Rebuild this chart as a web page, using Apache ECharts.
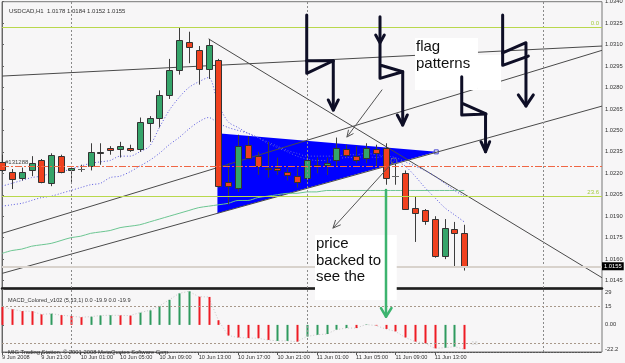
<!DOCTYPE html>
<html><head><meta charset="utf-8">
<script src="https://cdn.jsdelivr.net/npm/echarts@6/dist/echarts.min.js"></script>
<style>html,body{margin:0;padding:0;background:#f7f6f7;}#c{width:625px;height:363px;}</style>
</head><body><div id="c"></div>
<script>
// ================= DATA =================
const symbolTitle = 'USDCAD,H1';
const macdTitle = 'MACD_Colored_v102 (5,13,1)';
const timeLabelBars = [0, 4, 8, 12, 16, 20, 24, 28, 32, 36, 40, 44];
const timeLabels = ['9 Jun 2008', '9 Jun 21:00', '10 Jun 01:00', '10 Jun 05:00', '10 Jun 09:00', '10 Jun 13:00',
  '10 Jun 17:00', '10 Jun 21:00', '11 Jun 01:00', '11 Jun 05:00', '11 Jun 09:00', '11 Jun 13:00'];
const priceTicks = [1.0145, 1.0160, 1.0175, 1.0190, 1.0205, 1.0220, 1.0235, 1.0250, 1.0265, 1.0280, 1.0295, 1.0310, 1.0325, 1.0340];
const macdTicks = [-22.2, -15, 0, 15, 29.4];
const macdTickLabels = ['-22.2', '-15', '0.00', '15', '29'];
const dayBreaks = [7, 31, 55];

// hourly candles, bar 0 = 9 Jun 17:00
const open  = [1.0228,1.0221,1.0217,1.0222,1.0229,1.0213,1.0232,1.0222,1.0223,1.0225,1.0234,1.0238,1.0237,1.0238,1.0237,1.0255,1.0259,1.0275,1.0292,1.0312,1.0306,1.0293,1.0299,1.0214,1.0210,1.0240,1.0232,1.0224,1.0224,1.0221,1.0218,1.0217,1.0226,1.0226,1.0229,1.0237,1.0232,1.0231,1.0237,1.0238,1.0218,1.0220,1.0196,1.0194,1.0188,1.0162,1.0181,1.0178];
const high  = [1.0233,1.0223,1.0224,1.0232,1.0230,1.0234,1.0233,1.0225,1.0226,1.0241,1.0241,1.0239,1.0242,1.0240,1.0259,1.0260,1.0278,1.0300,1.0322,1.0319,1.0309,1.0314,1.0300,1.0227,1.0247,1.0246,1.0235,1.0242,1.0231,1.0224,1.0224,1.0232,1.0231,1.0231,1.0245,1.0240,1.0239,1.0241,1.0240,1.0241,1.0227,1.0222,1.0204,1.0195,1.0190,1.0188,1.0186,1.0184];
const low   = [1.0221,1.0209,1.0215,1.0218,1.0213,1.0211,1.0220,1.0214,1.0221,1.0222,1.0226,1.0233,1.0231,1.0235,1.0235,1.0242,1.0252,1.0272,1.0289,1.0297,1.0282,1.0286,1.0210,1.0198,1.0207,1.0230,1.0219,1.0217,1.0219,1.0215,1.0210,1.0213,1.0220,1.0219,1.0225,1.0231,1.0227,1.0227,1.0225,1.0212,1.0212,1.0195,1.0172,1.0184,1.0161,1.0160,1.0154,1.0152];
const close = [1.0222,1.0216,1.0221,1.0227,1.0214,1.0233,1.0221,1.0224,1.0223,1.0235,1.0235,1.0236,1.0239,1.0236,1.0256,1.0259,1.0275,1.0292,1.0313,1.0308,1.0293,1.0310,1.0211,1.0211,1.0239,1.0231,1.0225,1.0223,1.0222,1.0219,1.0214,1.0229,1.0225,1.0227,1.0238,1.0233,1.0229,1.0238,1.0234,1.0217,1.0218,1.0195,1.0192,1.0187,1.0162,1.0182,1.0178,1.0155];

// moving averages (blue dotted pair, green)
const maFast = [1.0211,1.0213,1.0215,1.0217,1.0218,1.0220,1.0221,1.0223,1.0225,1.0227,1.0228,1.0229,1.0232,1.0232,1.0235,1.0239,1.0252,1.0264,1.0273,1.0280,1.0284,1.0287,1.0268,1.0256,1.0252,1.0248,1.0245,1.0242,1.0239,1.0236,1.0234,1.0232,1.0232,1.0232,1.0232,1.0233,1.0233,1.0234,1.0233,1.0232,1.0229,1.0225,1.0218,1.0210,1.0203,1.0196,1.0191,1.0186];
const maSlow = [1.0197,1.0198,1.0199,1.0201,1.0203,1.0204,1.0206,1.0208,1.0210,1.0212,1.0213,1.0217,1.0218,1.0221,1.0225,1.0229,1.0234,1.0240,1.0245,1.0251,1.0256,1.0259,1.0255,1.0252,1.0250,1.0248,1.0245,1.0241,1.0238,1.0235,1.0232,1.0230,1.0229,1.0229,1.0230,1.0231,1.0231,1.0232,1.0231,1.0232,1.0231,1.0228,1.0225,1.0222,1.0218,1.0213,1.0208,1.0204];
const maGreen = [1.0164,1.0166,1.0167,1.0169,1.0170,1.0171,1.0173,1.0175,1.0176,1.0178,1.0179,1.0180,1.0182,1.0183,1.0184,1.0186,1.0188,1.0190,1.0192,1.0194,1.0196,1.0197,1.0198,1.0199,1.0201,1.0201,1.0203,1.0204,1.0205,1.0206,1.0206,1.0207,1.0207,1.0208,1.0208,1.0208,1.0208,1.0208,1.0208,1.0208,1.0208,1.0208,1.0208,1.0208,1.0208,1.0208,1.0208,1.0208];

// MACD_Colored buffers (green = up buffer, red = down buffer), and dotted signal
const macdUp   = [null,null,null,null,null,9.2,null,null,null,6.7,7.7,7.9,null,null,10.0,11.9,15.5,20.5,25.8,27.5,null,null,null,null,null,null,null,null,-13.1,-13.1,null,-9.5,-8.1,-7.5,-3.9,-2.6,null,0.3,null,null,null,null,null,null,null,-18.7,-17.8,null];
const macdDown = [14.7,12.8,11.3,11.2,8.6,null,8.0,7.2,6.3,null,null,null,7.8,7.6,null,null,null,null,null,null,23.1,22.9,3.8,-8.7,-10.3,-10.8,-10.9,-12.3,null,null,-13.7,null,null,null,null,null,-2.6,null,-0.5,-3.3,-5.3,-10.3,-13.7,-15.0,-19.2,null,null,-19.9];
const macdSignal = [14.7,12.8,11.3,11.2,8.6,9.2,8.0,7.2,6.3,6.7,7.7,7.9,7.8,7.6,10.0,11.9,15.5,20.5,25.8,27.5,23.1,22.9,3.8,-8.7,-10.3,-10.8,-10.9,-12.3,-13.1,-13.1,-13.7,-9.5,-8.1,-7.5,-3.9,-2.6,-2.6,0.3,-0.5,-3.3,-5.3,-10.3,-13.7,-15.0,-19.2,-18.7,-17.8,-19.9];
const macdLevels = [15, -15];

// chart objects (bar index, price)
const fibLevels = [1.0322, 1.0204];
const fibNames = ['0.0', '23.6'];
const hLevel = 1.0225;
const hLevelName = '#131288';
const bidPrice = 1.0155;
const trendLines = [
  [[0, 1.0288], [61, 1.0309]],
  [[0, 1.0178], [61, 1.0306]],
  [[0, 1.0150], [61, 1.0267]],
  [[21, 1.0314], [61, 1.0147]]
];
const pennant = [[21.9, 1.0248], [21.9, 1.0192], [44.15, 1.0235]];

// hand-drawn annotations (bar index, price)
const whiteBoxes = [[41.99, 1.03146, 48.39, 1.02783], [48.39, 1.03027, 50.73, 1.02783], [31.82, 1.01769, 40.13, 1.01314]];
const noteTexts = ['flag\npatterns', 'price\nbacked to\nsee the'];
const noteAnchors = [[42.09, 1.03139], [31.92, 1.01762]];
const blackStrokes = [
  [[30.98,1.03307],[30.98,1.02899],[33.68,1.02987],[33.68,1.02643]],
  [[30.98,1.02987],[33.68,1.02987]],
  [[33.17,1.02713],[33.68,1.02643],[34.19,1.02713]],
  [[38.43,1.03295],[38.43,1.02864],[40.74,1.0291],[38.43,1.02957]],
  [[40.74,1.0291],[40.74,1.02538]],
  [[37.99,1.03167],[38.43,1.03113],[38.87,1.03167]],
  [[40.19,1.02608],[40.74,1.02538],[41.21,1.02608]],
  [[50.9,1.03307],[50.9,1.02955],[53.51,1.0302]],
  [[50.9,1.03043],[53.27,1.03113],[53.27,1.02671]],
  [[52.49,1.02748],[53.27,1.02671],[54.02,1.02748]],
  [[46.74,1.02876],[46.74,1.02608],[49.21,1.02615],[46.74,1.0269]],
  [[49.16,1.02615],[49.16,1.02351]],
  [[48.7,1.02421],[49.16,1.02351],[49.58,1.02421]]
];
const greenStrokes = [
  [[39.04,1.02083],[39.04,1.01197]],
  [[38.53,1.01258],[39.04,1.01197],[39.6,1.01258]]
];
const grayStrokes = [
  [[38.63,1.02783],[35.07,1.02454]],
  [[35.70,1.02477],[35.07,1.02454],[35.22,1.02502]],
  [[39.85,1.02286],[33.65,1.01817]],
  [[34.40,1.01839],[33.65,1.01817],[33.90,1.01871]]
];

// ================= CHART =================
const UP = '#35a46a', DOWN = '#f0411f', FONT = '"Liberation Sans", Arial, sans-serif';
const last = open.length - 1;
const chart = echarts.init(document.getElementById('c'), null, {width: 625, height: 363});

function renderCandle(params, api) {
  const i = api.value(0), o = api.value(1), c = api.value(2), l = api.value(3), h = api.value(4);
  const po = api.coord([i, o]), pc = api.coord([i, c]), pl = api.coord([i, l]), ph = api.coord([i, h]);
  const cx = Math.round(po[0]) + 0.5, w = 5;
  const kids = [{type: 'line', shape: {x1: cx, y1: ph[1], x2: cx, y2: pl[1]}, style: {stroke: '#3d3d3d', lineWidth: 1}}];
  if (o === c) {
    const y = Math.round(po[1]) + 0.5;
    kids.push({type: 'line', shape: {x1: cx - 3.5, y1: y, x2: cx + 3.5, y2: y}, style: {stroke: '#6a6a6a', lineWidth: 1}});
  } else {
    const t = Math.round(Math.min(po[1], pc[1])) + 0.5, b = Math.round(Math.max(po[1], pc[1])) + 0.5;
    kids.push({type: 'rect', shape: {x: cx - w / 2 - 0.5, y: t, width: w + 1, height: Math.max(b - t, 1)},
      style: {fill: c > o ? UP : DOWN, stroke: '#333', lineWidth: 1}});
  }
  return {type: 'group', children: kids};
}
function macdBars(color) {
  return (params, api) => {
    const v = api.value(1);
    if (v == null || isNaN(v)) return null;
    const p0 = api.coord([api.value(0), 0]), p1 = api.coord([api.value(0), v]);
    const x = Math.round(p0[0]) - 0.5;
    return {type: 'rect', shape: {x: x, y: Math.min(p0[1], p1[1]), width: 2, height: Math.abs(p1[1] - p0[1])}, style: {fill: color}};
  };
}
const idx = arr => arr.map((v, i) => [i, v]);
const strokeSeries = (list, color, width, z) => list.map(pts => ({
  type: 'line', data: pts, xAxisIndex: 0, yAxisIndex: 0, clip: false, silent: true, z: z,
  showSymbol: false, symbol: 'none', lineStyle: {color: color, width: width, cap: 'round', join: 'round'}, animation: false
}));
const lastMacd = macdSignal[last].toFixed(1);

const option = {
  backgroundColor: '#f7f6f7',
  animation: false,
  title: [
    {text: symbolTitle + '  ' + [open[last], high[last], low[last], close[last]].map(v => v.toFixed(4)).join(' '),
      left: 4, top: 3, textStyle: {fontSize: 6, fontWeight: 'normal', color: '#333', fontFamily: FONT}},
    {text: macdTitle + ' 0.0 ' + lastMacd + ' 0.0 ' + lastMacd,
      left: 3, top: 292, textStyle: {fontSize: 5.6, fontWeight: 'normal', color: '#333', fontFamily: FONT}},
    {text: 'MIG Trading Station, © 2001-2008 MetaQuotes Software Corp.',
      left: 3, top: 344, textStyle: {fontSize: 5.8, fontWeight: 'normal', color: '#333', fontFamily: FONT}}
  ],
  grid: [
    {left: 2, top: 1.7, width: 600, height: 286.3, show: true, borderColor: '#777', borderWidth: 1, outerBoundsMode: 'none', containLabel: false},
    {left: 2, top: 289, width: 600, height: 63, show: true, borderColor: '#777', borderWidth: 1, outerBoundsMode: 'none', containLabel: false}
  ],
  xAxis: [
    {type: 'value', gridIndex: 0, min: 0, max: 61, position: 'bottom',
      axisLine: {show: true, onZero: false, lineStyle: {color: '#1e1e1e', width: 2.5}},
      axisTick: {show: false}, axisLabel: {show: false}, splitLine: {show: false}},
    {type: 'value', gridIndex: 1, min: 0, max: 61, position: 'bottom',
      axisLine: {show: true, onZero: false, lineStyle: {color: '#555', width: 1, type: [2, 1]}},
      axisTick: {show: true, length: 3, lineStyle: {color: '#555'}, customValues: timeLabelBars},
      axisLabel: {show: true, customValues: timeLabelBars, align: 'left', margin: 2, fontSize: 5.6, color: '#333', fontFamily: FONT, hideOverlap: false,
        formatter: v => { const k = timeLabelBars.indexOf(Math.round(v)); return k >= 0 ? timeLabels[k] : ''; }},
      splitLine: {show: false}}
  ],
  yAxis: [
    {type: 'value', gridIndex: 0, min: 1.01398, max: 1.0340, position: 'right', scale: true,
      axisLine: {show: true, lineStyle: {color: '#666'}},
      axisTick: {show: true, length: 2, lineStyle: {color: '#666'}, customValues: priceTicks},
      axisLabel: {show: true, customValues: priceTicks, margin: 3, fontSize: 5.8, color: '#333', fontFamily: FONT, hideOverlap: false, formatter: v => v.toFixed(4)},
      splitLine: {show: false}},
    {type: 'value', gridIndex: 1, min: -22.2, max: 29.4, position: 'right',
      axisLine: {show: true, lineStyle: {color: '#666'}},
      axisTick: {show: true, length: 2, lineStyle: {color: '#666'}, customValues: macdTicks},
      axisLabel: {show: true, customValues: macdTicks, margin: 3, fontSize: 5.8, color: '#333', fontFamily: FONT,
        hideOverlap: false, showMinLabel: true, showMaxLabel: true,
        verticalAlignMinLabel: 'bottom', verticalAlignMaxLabel: 'top',
        formatter: v => { let k = -1, d = 1e9; macdTicks.forEach((t, j) => { if (Math.abs(t - v) < d) { d = Math.abs(t - v); k = j; } }); return macdTickLabels[k]; }},
      splitLine: {show: false}}
  ],
  series: [
    // pennant (background object)
    {type: 'custom', xAxisIndex: 0, yAxisIndex: 0, z: 1, silent: true, data: [pennant.flat()],
      renderItem: (params, api) => {
        const pts = [0, 1, 2].map(k => api.coord([api.value(2 * k), api.value(2 * k + 1)]));
        return {type: 'group', children: [
          {type: 'polygon', shape: {points: pts}, style: {fill: '#0000ff'}},
          {type: 'rect', shape: {x: pts[2][0] - 2, y: pts[2][1] - 2, width: 4, height: 4}, style: {fill: 'none', stroke: '#4a4ad0', lineWidth: 1}}
        ]};
      }},
    // trend lines
    ...trendLines.map(tl => ({type: 'line', data: tl, xAxisIndex: 0, yAxisIndex: 0, z: 3, silent: true, symbol: 'none',
      lineStyle: {color: '#4a4a4a', width: 1}})),
    // moving averages + horizontal objects + day separators
    {type: 'line', data: idx(maGreen), xAxisIndex: 0, yAxisIndex: 0, z: 3, silent: true, symbol: 'none', smooth: 0.3,
      lineStyle: {color: '#6cc692', width: 1},
      markLine: {silent: true, symbol: ['none', 'none'], animation: false, precision: 6,
        data: [
          ...dayBreaks.map(x => ({xAxis: x, lineStyle: {color: '#8a8a8a', type: [2, 2], width: 1}, label: {show: false}})),
          ...fibLevels.map((y, k) => ({yAxis: y, lineStyle: {color: '#b9d84c', type: 'solid', width: 1},
            label: {show: true, position: 'insideEndTop', formatter: fibNames[k], color: '#a6cc40', fontSize: 6, fontFamily: FONT, distance: [3, 1]}})),
          {yAxis: hLevel, lineStyle: {color: '#f06644', type: [7, 2, 2, 2], width: 1},
            label: {show: true, position: 'insideStartTop', formatter: hLevelName, color: '#444', fontSize: 6, fontFamily: FONT, distance: [3, 1]}},
          {yAxis: bidPrice, lineStyle: {color: '#d8d2cc', type: 'solid', width: 2},
            label: {show: true, position: 'end', formatter: bidPrice.toFixed(4), color: '#fff', backgroundColor: '#000', fontSize: 5.8, fontFamily: FONT, padding: [1, 2, 1, 2], distance: 0}}
        ]}},
    {type: 'line', data: idx(maFast), xAxisIndex: 0, yAxisIndex: 0, z: 3, silent: true, symbol: 'none', smooth: 0.3,
      lineStyle: {color: '#5a5ae0', width: 1, type: [1, 2]}},
    {type: 'line', data: idx(maSlow), xAxisIndex: 0, yAxisIndex: 0, z: 3, silent: true, symbol: 'none', smooth: 0.3,
      lineStyle: {color: '#5a5ae0', width: 1, type: [1, 2]}},
    // candles
    {type: 'custom', xAxisIndex: 0, yAxisIndex: 0, z: 4, silent: true,
      data: open.map((o, i) => [i, o, close[i], low[i], high[i]]), renderItem: renderCandle},
    // MACD
    {type: 'line', data: idx(macdSignal), xAxisIndex: 1, yAxisIndex: 1, z: 3, silent: true, symbol: 'none',
      lineStyle: {color: '#c8c8c8', width: 1, type: [1, 2]},
      markLine: {silent: true, symbol: ['none', 'none'], animation: false, precision: 4, label: {show: false},
        data: [
          ...dayBreaks.map(x => ({xAxis: x, lineStyle: {color: '#8a8a8a', type: [2, 2], width: 1}})),
          ...macdLevels.map(y => ({yAxis: y, lineStyle: {color: '#a8988a', type: [2, 2], width: 1}}))
        ]}},
    {type: 'custom', xAxisIndex: 1, yAxisIndex: 1, z: 4, silent: true, data: idx(macdUp), renderItem: macdBars('#2f9a5e')},
    {type: 'custom', xAxisIndex: 1, yAxisIndex: 1, z: 4, silent: true, data: idx(macdDown), renderItem: macdBars('#ee1c24')},
    {type: 'custom', xAxisIndex: 1, yAxisIndex: 1, z: 5, silent: true, data: [[47.5, -15.2]],
      renderItem: (params, api) => { const p = api.coord([api.value(0), api.value(1)]);
        return {type: 'text', x: p[0], y: p[1], style: {text: '-16', fill: '#d0d0d0', font: '6px ' + FONT, verticalAlign: 'middle'}}; }},
    // white boxes (pasted annotations)
    {type: 'custom', xAxisIndex: 0, yAxisIndex: 0, z: 10, silent: true, clip: false, data: whiteBoxes,
      renderItem: (params, api) => {
        const a = api.coord([api.value(0), api.value(1)]), b = api.coord([api.value(2), api.value(3)]);
        return {type: 'rect', shape: {x: a[0], y: a[1], width: b[0] - a[0], height: b[1] - a[1]}, style: {fill: '#ffffff'}};
      }},
    ...strokeSeries(grayStrokes, '#555', 1, 11),
    ...strokeSeries(blackStrokes, '#0e0e26', 3, 12),
    ...strokeSeries(greenStrokes, '#3db46f', 2.5, 12),
    {type: 'scatter', data: [grayStrokes[2][0]], xAxisIndex: 0, yAxisIndex: 0, z: 11, silent: true,
      symbol: 'circle', symbolSize: 6, itemStyle: {color: 'rgba(0,0,0,0)', borderColor: '#777', borderWidth: 1}},
    {type: 'custom', xAxisIndex: 0, yAxisIndex: 0, z: 13, silent: true, clip: false, data: noteAnchors,
      renderItem: (params, api) => {
        const p = api.coord([api.value(0), api.value(1)]);
        return {type: 'text', x: p[0], y: p[1], style: {text: noteTexts[params.dataIndex], fill: '#111', font: '15px ' + FONT, lineHeight: 16.3, verticalAlign: 'top', align: 'left'}};
      }}
  ]
};
chart.setOption(option);
</script>
</body></html>
